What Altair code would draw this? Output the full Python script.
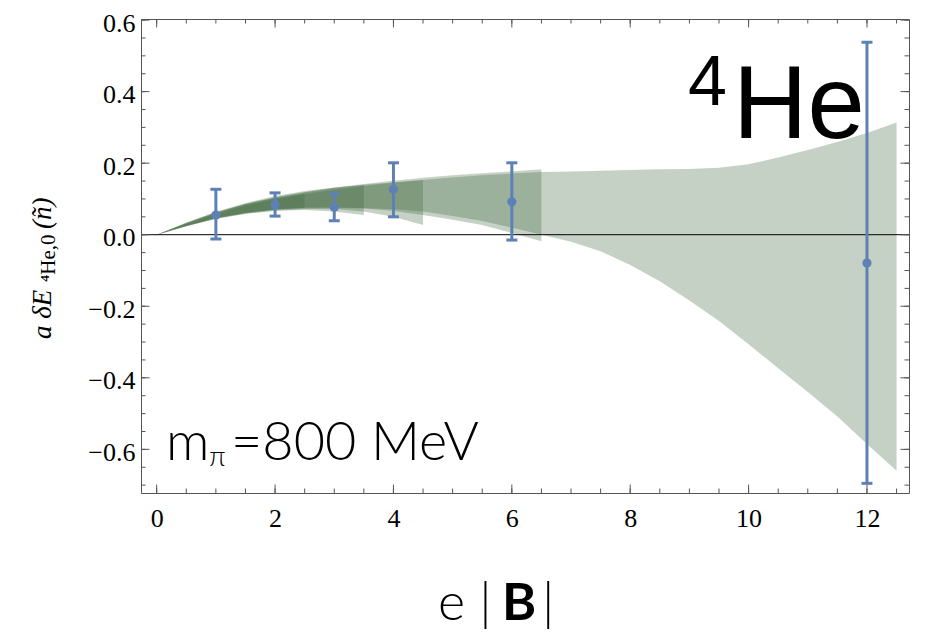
import altair as alt
import pandas as pd

# ---------------- data ----------------
pt_x = [1, 2, 3, 4, 6, 12]
pt_y = [0.055, 0.084, 0.077, 0.127, 0.092, -0.079]
pt_lo = [-0.012, 0.052, 0.039, 0.050, -0.015, -0.695]
pt_hi = [0.127, 0.117, 0.116, 0.201, 0.201, 0.538]

band_x = [0, 0.5, 1, 1.5, 2, 2.5, 3, 3.5, 4, 4.5, 5, 5.5, 6, 6.5,
          7, 7.5, 8, 8.5, 9, 9.5, 10, 10.5, 11, 11.5, 12, 12.5]

band1_up = [0, 0.033, 0.063, 0.086, 0.102, 0.114]
band1_lo = [0, 0.025, 0.047, 0.062, 0.071, 0.075]
band2_up = [0, 0.034, 0.064, 0.089, 0.108, 0.122, 0.132, 0.139]
band2_lo = [0, 0.024, 0.045, 0.059, 0.067, 0.069, 0.065, 0.055]
band3_up = [0, 0.033, 0.062, 0.086, 0.105, 0.119, 0.131, 0.140, 0.147, 0.153]
band3_lo = [0, 0.024, 0.045, 0.060, 0.070, 0.074, 0.072, 0.065, 0.050, 0.027]
band4_up = [0, 0.032, 0.061, 0.085, 0.104, 0.119, 0.131, 0.142, 0.151, 0.159,
            0.166, 0.172, 0.177, 0.183]
band4_lo = [0, 0.025, 0.046, 0.061, 0.071, 0.076, 0.077, 0.074, 0.066, 0.055,
            0.042, 0.027, 0.005, -0.018]
band5_up = [0, 0.031, 0.058, 0.081, 0.099, 0.114, 0.126, 0.136, 0.145, 0.153,
            0.160, 0.166, 0.171, 0.175, 0.177, 0.179, 0.181, 0.183, 0.184, 0.187,
            0.197, 0.216, 0.237, 0.259, 0.284, 0.314]
band5_lo = [0, 0.024, 0.044, 0.058, 0.067, 0.072, 0.074, 0.074, 0.071, 0.065,
            0.052, 0.038, 0.020, 0.0, -0.020, -0.046, -0.085, -0.130, -0.184, -0.241,
            -0.306, -0.373, -0.440, -0.508, -0.585, -0.660]

x_major = [0, 2, 4, 6, 8, 10, 12]
x_minor = [0, 0.5, 1, 1.5, 2, 2.5, 3, 3.5, 4, 4.5, 5, 5.5, 6, 6.5, 7, 7.5, 8,
           8.5, 9, 9.5, 10, 10.5, 11, 11.5, 12, 12.5]
y_major = [-0.6, -0.4, -0.2, 0.0, 0.2, 0.4, 0.6]
y_minor = [-0.7, -0.65, -0.6, -0.55, -0.5, -0.45, -0.4, -0.35, -0.3, -0.25, -0.2,
           -0.15, -0.1, -0.05, 0.0, 0.05, 0.1, 0.15, 0.2, 0.25, 0.3, 0.35, 0.4,
           0.45, 0.5, 0.55, 0.6]

# ---------------- styling ----------------
W, H = 768, 474
BLUE = "#5E81B5"
GREEN = "#3f673d"
FRAME = "#555555"
SERIF = "Liberation Serif"
SANS = "Lato"

xscale = alt.Scale(domain=[-0.265, 12.71], nice=False, zero=False)
yscale = alt.Scale(domain=[-0.722, 0.603], nice=False, zero=False)

pts_df = pd.DataFrame({"x": pt_x, "y": pt_y, "lo": pt_lo, "hi": pt_hi})

# base layer carrying the axes (invisible points)
base = alt.Chart(pts_df).mark_point(opacity=0).encode(
    x=alt.X("x:Q", scale=xscale,
            axis=alt.Axis(values=x_major, format="d", ticks=False, domain=False, grid=False,
                          labelFont=SERIF, labelFontSize=26, labelColor="black",
                          labelPadding=12, labelFlush=False, title=None)),
    y=alt.Y("y:Q", scale=yscale,
            axis=alt.Axis(values=y_major, format=".1f", ticks=False, domain=False, grid=False,
                          labelFont=SERIF, labelFontSize=26, labelColor="black",
                          labelPadding=6, labelOffset=3, labelFlush=False, title=None)),
)


def band_layer(up, lo):
    n = len(up)
    df = pd.DataFrame({"bx": band_x[:n], "up": up, "lo": lo})
    return alt.Chart(df).mark_area(color=GREEN, fillOpacity=0.3, strokeWidth=0).encode(
        x=alt.X("bx:Q", scale=xscale),
        y=alt.Y("lo:Q", scale=yscale),
        y2=alt.Y2("up:Q"),
    )


bands = [band_layer(band1_up, band1_lo), band_layer(band2_up, band2_lo),
         band_layer(band3_up, band3_lo), band_layer(band4_up, band4_lo),
         band_layer(band5_up, band5_lo)]

zero = alt.Chart(pd.DataFrame({"z": [0.0]})).mark_rule(color="black", strokeWidth=1).encode(
    y=alt.Y("z:Q", scale=yscale))

bars = alt.Chart(pts_df).mark_rule(color=BLUE, strokeWidth=3).encode(
    x=alt.X("x:Q", scale=xscale), y=alt.Y("lo:Q", scale=yscale), y2="hi:Q")
cap_lo = alt.Chart(pts_df).mark_tick(color=BLUE, orient="horizontal", size=11, thickness=3,
                                     opacity=1).encode(
    x=alt.X("x:Q", scale=xscale), y=alt.Y("lo:Q", scale=yscale))
cap_hi = alt.Chart(pts_df).mark_tick(color=BLUE, orient="horizontal", size=11, thickness=3,
                                     opacity=1).encode(
    x=alt.X("x:Q", scale=xscale), y=alt.Y("hi:Q", scale=yscale))
dots = alt.Chart(pts_df).mark_circle(color=BLUE, size=85, opacity=1).encode(
    x=alt.X("x:Q", scale=xscale), y=alt.Y("y:Q", scale=yscale))


def xticks(vals, length, side):
    df = pd.DataFrame({"v": vals})
    if side == "bottom":
        y0, y1 = H, H - length
    else:
        y0, y1 = 0, length
    return alt.Chart(df).mark_rule(color=FRAME, strokeWidth=1).encode(
        x=alt.X("v:Q", scale=xscale), y=alt.value(y0), y2=alt.value(y1))


def yticks(vals, length, side):
    df = pd.DataFrame({"v": vals})
    if side == "left":
        x0, x1 = 0, length
    else:
        x0, x1 = W, W - length
    return alt.Chart(df).mark_rule(color=FRAME, strokeWidth=1).encode(
        y=alt.Y("v:Q", scale=yscale), x=alt.value(x0), x2=alt.value(x1))


ticks = [xticks(x_minor, 4.5, "bottom"), xticks(x_major, 8.5, "bottom"),
         xticks(x_minor, 4.5, "top"), xticks(x_major, 8.5, "top"),
         yticks(y_minor, 4.5, "left"), yticks(y_major, 8.5, "left"),
         yticks(y_minor, 4.5, "right"), yticks(y_major, 8.5, "right")]

one = pd.DataFrame({"a": [0]})


def label(text, x, y, size, font, **kw):
    return alt.Chart(one).mark_text(text=text, font=font, fontSize=size, color="black",
                                    align="left", baseline="alphabetic", **kw).encode(
        x=alt.value(x), y=alt.value(y))


texts = [
    label("4", 547, 86, 70, "Liberation Sans"),
    label("He", 592, 119, 103, "Liberation Sans"),
    label("m", 25, 441, 54, SANS, fontWeight=300),
    label("π", 68, 447, 28, SANS, fontWeight=300),
    label("=800 MeV", 90, 441, 54, SANS, fontWeight=300),
    label("e |", 297, 601, 52, SANS, fontWeight=300),
    label("B", 361, 601, 52, SANS, fontWeight="bold"),
    label("|", 401, 601, 52, SANS, fontWeight=300),
    label("a δE", -90, 320, 27, SERIF, angle=270, fontStyle="italic"),
    label("⁴He,0", -86, 263, 21, SERIF, angle=270),
    label("(ñ)", -90, 210, 27, SERIF, angle=270, fontStyle="italic"),
]

chart = alt.layer(base, *bands, zero, bars, cap_lo, cap_hi, dots, *ticks, *texts).properties(
    width=W, height=H,
    autosize=alt.AutoSizeParams(type="none"),
    padding={"left": 133, "top": 11, "right": 10, "bottom": 139},
).configure_view(stroke=FRAME, strokeWidth=1)

chart.save("out.html", embed_options={"renderer": "svg", "actions": False})
